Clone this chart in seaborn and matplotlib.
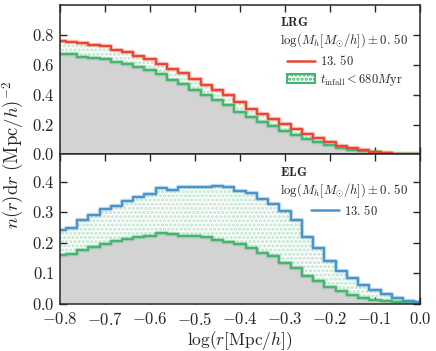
import numpy as np
import seaborn as sns
from matplotlib import pyplot as plt
from matplotlib.patches import Patch
from matplotlib.lines import Line2D
from matplotlib.ticker import FuncFormatter

# bin centres in log(r [Mpc/h])
log_r = np.round(np.arange(-0.8, 0.001, 0.025), 3)

lrg_all = [0.757, 0.755, 0.742, 0.730, 0.722, 0.700, 0.683, 0.660, 0.635, 0.607,
           0.570, 0.545, 0.503, 0.465, 0.430, 0.396, 0.351, 0.307, 0.273, 0.240,
           0.206, 0.172, 0.139, 0.112, 0.083, 0.058, 0.042, 0.028, 0.016, 0.010,
           0.006, 0.003, 0.001]
lrg_infall = [0.670, 0.669, 0.650, 0.642, 0.636, 0.617, 0.604, 0.586, 0.564, 0.537,
              0.501, 0.474, 0.432, 0.396, 0.362, 0.329, 0.284, 0.250, 0.217, 0.188,
              0.156, 0.128, 0.105, 0.083, 0.060, 0.045, 0.032, 0.021, 0.013, 0.008,
              0.004, 0.002, 0.001]
elg_all = [0.244, 0.250, 0.274, 0.291, 0.310, 0.321, 0.338, 0.349, 0.360, 0.379,
           0.374, 0.382, 0.384, 0.382, 0.387, 0.382, 0.371, 0.365, 0.343, 0.327,
           0.305, 0.275, 0.220, 0.184, 0.140, 0.107, 0.085, 0.063, 0.046, 0.033,
           0.019, 0.011, 0.005]
elg_infall = [0.162, 0.164, 0.178, 0.187, 0.195, 0.206, 0.213, 0.220, 0.224, 0.233,
              0.230, 0.222, 0.224, 0.220, 0.211, 0.204, 0.195, 0.182, 0.167, 0.156,
              0.134, 0.118, 0.092, 0.074, 0.055, 0.041, 0.030, 0.021, 0.013, 0.010,
              0.007, 0.005, 0.003]

mass_label = r"$13.\,50$"
infall_label = r"$t_{\rm infall}<680M{\rm yr}$"
bin_label = r"$\log(M_h[M_{\odot}/h])\pm0.\,50$"

sns.set_style("ticks")
plt.rcParams["font.family"] = ["serif"]
plt.rcParams["font.serif"] = ["Liberation Serif", "DejaVu Serif"]
plt.rcParams["mathtext.fontset"] = "cm"
plt.rcParams["hatch.linewidth"] = 1.6

red = "#ee4433"
green = "#45b46f"
blue = "#4a94cc"
grey = "#d3d3d3"

math_fmt = FuncFormatter(lambda v, pos: "$%.1f$" % v)

fig, axes = plt.subplots(2, 1, figsize=(4.36, 3.51), dpi=100, sharex=True)
fig.subplots_adjust(left=0.138, right=0.963, top=0.986, bottom=0.134, hspace=0)

panels = [
    (axes[0], lrg_all, lrg_infall, red, r"$\mathbf{LRG}$", 1.0, [0.0, 0.2, 0.4, 0.6, 0.8]),
    (axes[1], elg_all, elg_infall, blue, r"$\mathbf{ELG}$", 0.49, [0.0, 0.1, 0.2, 0.3, 0.4]),
]

for ax, total, infall, col, name, ytop, yticks in panels:
    ax.fill_between(log_r, 0, infall, step="mid", color=grey, linewidth=0)
    ax.fill_between(log_r, infall, total, step="mid", facecolor="none",
                    edgecolor=green, alpha=0.35, hatch="....", linewidth=0)
    # soft halo under the step lines
    ax.plot(log_r, total, drawstyle="steps-mid", color=col, lw=3.2, alpha=0.3)
    ax.plot(log_r, infall, drawstyle="steps-mid", color=green, lw=3.2, alpha=0.3)
    sns.lineplot(x=log_r, y=infall, ax=ax, drawstyle="steps-mid", color=green, lw=1.6)
    sns.lineplot(x=log_r, y=total, ax=ax, drawstyle="steps-mid", color=col, lw=1.6)

    ax.set_xlim(-0.8, 0.0)
    ax.set_ylim(0, ytop)
    ax.set_yticks(yticks)
    ax.yaxis.set_major_formatter(math_fmt)
    ax.tick_params(direction="in", top=True, right=True, length=5, width=1,
                   labelsize=12, pad=4)
    ax.tick_params(axis="x", pad=6)
    for sp in ax.spines.values():
        sp.set_linewidth(1.1)

    handles = [Line2D([], [], color=col, lw=1.8)]
    labels = [mass_label]
    if ax is axes[0]:
        handles.append(Patch(facecolor="white", edgecolor=green, hatch="....", lw=1.5))
        labels.append(infall_label)
    ax.legend(handles, labels, title=name + "\n" + bin_label, loc="upper right",
              frameon=False, fontsize=9, title_fontsize=9.2,
              handlelength=2.2, handletextpad=0.4, borderaxespad=0.5,
              labelspacing=0.3)

axes[1].set_xticks([-0.8, -0.7, -0.6, -0.5, -0.4, -0.3, -0.2, -0.1, 0.0])
axes[1].xaxis.set_major_formatter(math_fmt)
axes[1].set_xlabel(r"$\log(r[\mathrm{Mpc}/h])$", fontsize=12.5, labelpad=0)
fig.text(0.03, 0.56, r"$n(r)\mathrm{d}r\ (\mathrm{Mpc}/h)^{-2}$", rotation=90,
         ha="center", va="center", fontsize=13.5)

plt.savefig("out.png", dpi=100)
